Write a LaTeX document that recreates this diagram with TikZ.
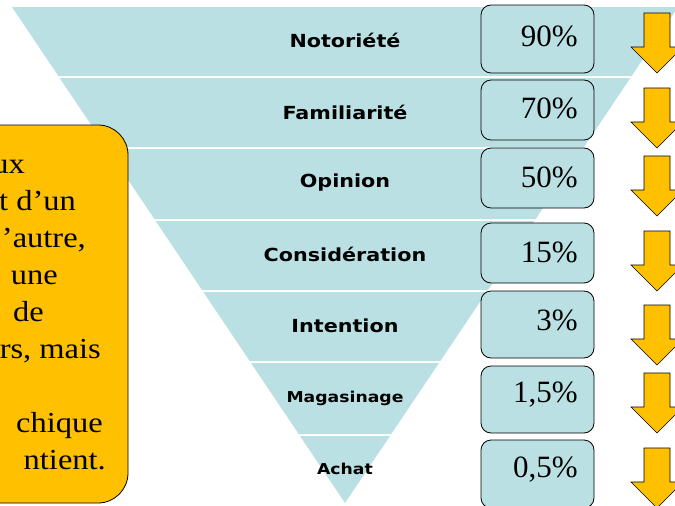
\documentclass[tikz,border=0pt]{standalone}
\usepackage{fontspec}
\setmainfont{Liberation Serif}
\newfontfamily\stagefont{DejaVu Sans}[FakeStretch=1.15]
\newfontfamily\notefont{Liberation Serif}[FakeStretch=1.12]
\definecolor{funnelblue}{HTML}{BBE0E3}
\definecolor{gold}{HTML}{FFC000}

\begin{document}
\begin{tikzpicture}[
  x=1pt, y=-1pt,
  stage/.style={font=\stagefont\bfseries\fontsize{18}{20}\selectfont, inner sep=0pt},
  smallstage/.style={font=\stagefont\bfseries\fontsize{15}{17}\selectfont, inner sep=0pt},
  pctbox/.style={rectangle, draw=black, line width=0.8pt, rounded corners=10pt, fill=funnelblue, minimum width=113pt, inner sep=0pt},
  pct/.style={anchor=east, font=\fontsize{31}{33}\selectfont, inner sep=0pt},
  notebox/.style={rectangle, draw=black, line width=0.8pt, rounded corners=30pt, fill=gold, minimum width=168pt, minimum height=378pt},
  note/.style={anchor=base east, font=\notefont\fontsize{29}{33}\selectfont, inner sep=0pt},
  downarrow/.style={fill=gold, draw=black, line width=0.6pt}
]
\useasboundingbox (0,0) rectangle (675,506);
\clip (0,0) rectangle (675,506);

% Funnel bands
\foreach \t/\b in {7/76,78/147,149/219,221/290,292/361,363/434}
  \fill[funnelblue] ({12+0.6714*(\t-7)},\t) -- ({678-0.6714*(\t-7)},\t)
    -- ({678-0.6714*(\b-7)},\b) -- ({12+0.6714*(\b-7)},\b) -- cycle;
\fill[funnelblue] ({12+0.6714*429},436) -- ({678-0.6714*429},436) -- (345,503) -- cycle;

% Stages
\node[stage] (notoriete) at (345,40) {Notoriété};
\node[stage] (familiarite) at (345,112) {Familiarité};
\node[stage] (opinion) at (345,183) {Opinion};
\node[stage] (consideration) at (345,254) {Considération};
\node[stage] (intention) at (345,326) {Intention};
\node[smallstage] (magasinage) at (345,398) {Magasinage};
\node[smallstage] (achat) at (345,469) {Achat};

% Percentages
\foreach \n/\t/\b/\c/\v in {1/5/73/36/90\%, 2/80/140/108/70\%, 3/148/208/177/50\%,
    4/223/283/252/15\%, 5/291/358/320/3\%, 6/366/433/395/{1,5\%}, 7/440/508/470/{0,5\%}} {
  \node[pctbox, minimum height={\b-\t}] (box\n) at (537.5,{(\t+\b)/2}) {};
  \node[pct] (pct\n) at (578,\c) {\v};
}

% Arrows
\foreach \t in {13,88,156,231,305,373,448}
  \filldraw[downarrow] (644,\t) -- (670,\t) -- (670,{\t+34}) -- (683,{\t+34})
    -- (657,{\t+60}) -- (631,{\t+34}) -- (644,{\t+34}) -- cycle;

% Note box
\node[notebox] (note) at (44,314) {};
\foreach \y/\x/\s in {173/25/{ux}, 210/76/{t d’un}, 247/86/{’autre,}, 284/58/{une},
    321/44/{de}, 358/101/{rs, mais}, 432/103/{chique}, 469/106/{ntient.}}
  \node[note] at (\x,\y) {\s};

\end{tikzpicture}
\end{document}
